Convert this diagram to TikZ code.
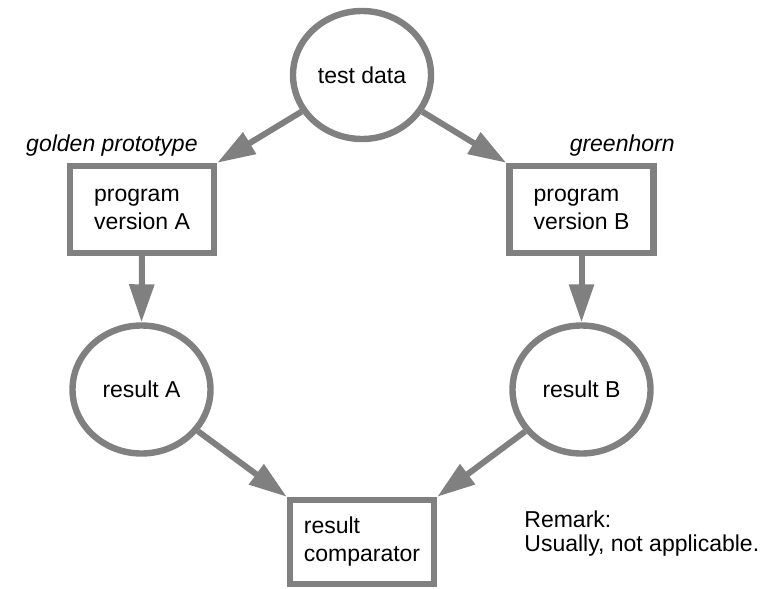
\documentclass[tikz,border=0pt]{standalone}
\usepackage{fontspec}
\setmainfont{Liberation Sans}
\definecolor{flowgray}{RGB}{128,128,128}
\usetikzlibrary{shapes.geometric, arrows.meta}

\begin{document}
\begin{tikzpicture}[x=0.5pt, y=-0.5pt,
        font=\fontsize{11.5}{14}\selectfont,
        datanode/.style={ellipse, draw=flowgray, line width=3.2pt, inner sep=0pt, minimum width=69pt, minimum height=64pt},
        prognode/.style={rectangle, draw=flowgray, line width=3.2pt, align=left, minimum width=72pt, minimum height=43.5pt},
        flow/.style={color=flowgray, line width=3pt, -{Triangle[length=19pt, width=12pt]}},
        role/.style={font=\fontsize{11.5}{14}\selectfont\itshape, inner sep=0pt}]
        \useasboundingbox (0,0) rectangle (774,588);

        % data and results
        \node (testdata) [datanode] at (362,75) {test data};
        \node (resultA) [datanode] at (141.5,389.5) {result A};
        \node (resultB) [datanode] at (581.5,389.5) {result B};

        % programs
        \node (versionA) [prognode] at (142,209.5) {program\\version A};
        \node (versionB) [prognode] at (581.5,209.5) {program\\version B};
        \node (comparator) [prognode, minimum height=42pt] at (362,542) {result\\comparator};

        \node (golden) [role, anchor = base east] at (198,152) {golden prototype};
        \node (greenhorn) [role, anchor = base east] at (675,152) {greenhorn};

        \node (remark) [anchor = base west, align = left, inner sep = 0pt, font=\fontsize{11.5}{12}\selectfont] at (524,551) {Remark:\\Usually, not applicable.};

        % connectors
        \draw [flow] (testdata) -- (versionA.north east);
        \draw [flow] (testdata) -- (versionB.north west);
        \draw [flow] (versionA.south) -- (resultA.north);
        \draw [flow] (versionB.south) -- (resultB.north);
        \draw [flow] (resultA) -- (comparator.north west);
        \draw [flow] (resultB) -- (comparator.north east);
\end{tikzpicture}
\end{document}
